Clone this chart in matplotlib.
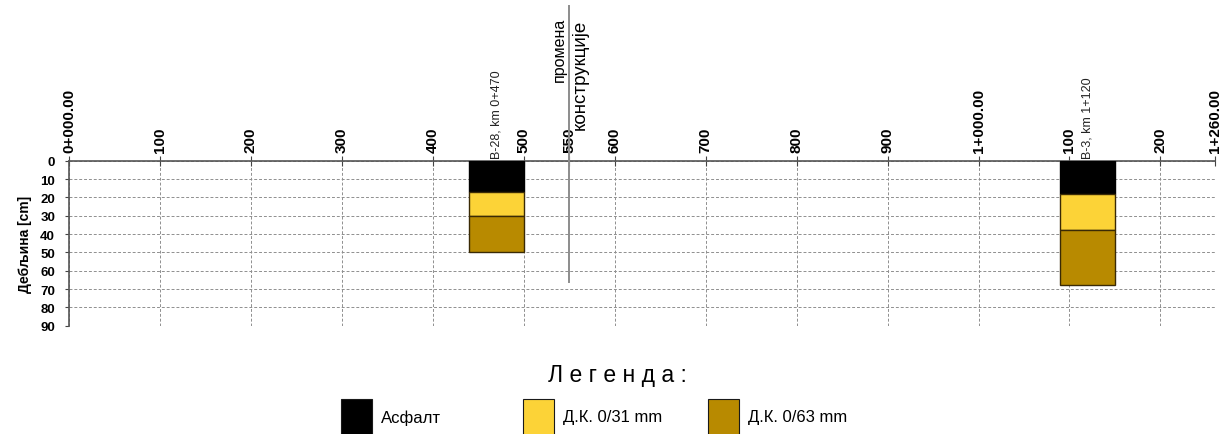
import matplotlib.pyplot as plt
import matplotlib.transforms as mtransforms
from matplotlib.patches import Rectangle

plt.rcParams['font.family'] = ['Liberation Sans', 'DejaVu Sans']

# stationing along the road [m]
stations = [0, 100, 200, 300, 400, 500, 550, 600, 700, 800, 900, 1000, 1100, 1200, 1260]
station_labels = ["0+000.00", "100", "200", "300", "400", "500", "550", "600",
                  "700", "800", "900", "1+000.00", "100", "200", "1+260.00"]
depth_ticks = [0, 10, 20, 30, 40, 50, 60, 70, 80, 90]

# boreholes
bore_names = ["В-28, km 0+470", "В-3, km 1+120"]
bore_centers = [470, 1120]
bore_width = 60
# layer thicknesses [cm]
asphalt = [17, 18]
dk31 = [13, 20]
dk63 = [20, 30]

layer_names = ["Асфалт", "Д.К. 0/31 mm", "Д.К. 0/63 mm"]
layer_colors = ["#000000", "#FCD337", "#B88A00"]

change_station = 550
change_depth = 66
change_text = ("промена", "конструкције")


def main():
    fig = plt.figure(figsize=(12.28, 4.35), dpi=100)
    ax = fig.add_axes([0.0562, 0.249, 0.9332, 0.3793])

    ax.set_xlim(0, 1260)
    ax.set_ylim(90, 0)

    # grid
    ax.set_xticks(stations)
    ax.set_xticklabels(station_labels, rotation=90, fontsize=11, fontweight="bold")
    ax.set_yticks(depth_ticks)
    ax.set_yticklabels([str(d) for d in depth_ticks], fontsize=9.5, fontweight="bold")
    ax.xaxis.tick_top()
    ax.tick_params(axis="x", direction="inout", length=7, width=0.8, color="#444444", pad=3)
    ax.tick_params(axis="y", direction="out", length=3, width=0.8, color="#444444", pad=7)
    ax.grid(True, linestyle=(0, (3, 2)), linewidth=0.7, color="#8f8f8f")
    ax.get_xgridlines()[stations.index(change_station)].set_visible(False)
    ax.set_axisbelow(True)

    for s in ["bottom", "right"]:
        ax.spines[s].set_visible(False)
    for s in ["top", "left"]:
        ax.spines[s].set_color("#555555")
        ax.spines[s].set_linewidth(1.2)

    ax.set_ylabel("Дебљина [cm]", fontsize=10, fontweight="bold", labelpad=6)

    # layered boreholes
    bottom = [0, 0]
    for thick, color in zip([asphalt, dk31, dk63], layer_colors):
        edge = color if color == "#000000" else "#3a2a05"
        ax.bar(bore_centers, thick, width=bore_width, bottom=bottom, color=color,
               edgecolor=edge, linewidth=1.0, zorder=3)
        bottom = [b + t for b, t in zip(bottom, thick)]

    for name, xc in zip(bore_names, bore_centers):
        ax.annotate(name, (xc, 0), xytext=(0, 2), textcoords="offset points",
                    rotation=90, ha="center", va="bottom", fontsize=9, color="#222222")

    # construction change marker
    ax.axvline(change_station, ymin=(90 - change_depth) / 90, ymax=1.94,
               color="#8c8c8c", linewidth=1.4, clip_on=False, zorder=4)
    blend = mtransforms.blended_transform_factory(ax.transData, ax.transAxes)
    ax.annotate(change_text[0], (change_station, 1.483), xycoords=blend,
                xytext=(-2, 0), textcoords="offset points", rotation=90,
                ha="right", va="bottom", fontsize=11.5)
    ax.annotate(change_text[1], (change_station, 1.192), xycoords=blend,
                xytext=(2, 0), textcoords="offset points", rotation=90,
                ha="left", va="bottom", fontsize=13.5)

    # legend
    fig.text(617 / 1228, 1 - 376 / 435, "Л е г е н д а :", ha="center", va="center",
             fontsize=16.5)
    patch_x = [341, 523, 708]
    for x0, name, color in zip(patch_x, layer_names, layer_colors):
        fig.patches.append(Rectangle((x0 / 1228, 1 - 438 / 435), 31 / 1228, 38 / 435,
                                     transform=fig.transFigure, facecolor=color,
                                     edgecolor="#1a1a1a", linewidth=0.8))
        fig.text((x0 + 40) / 1228, 1 - 418 / 435, name, ha="left", va="center",
                 fontsize=12)

    fig.savefig("out.png", dpi=100)


if __name__ == "__main__":
    main()
